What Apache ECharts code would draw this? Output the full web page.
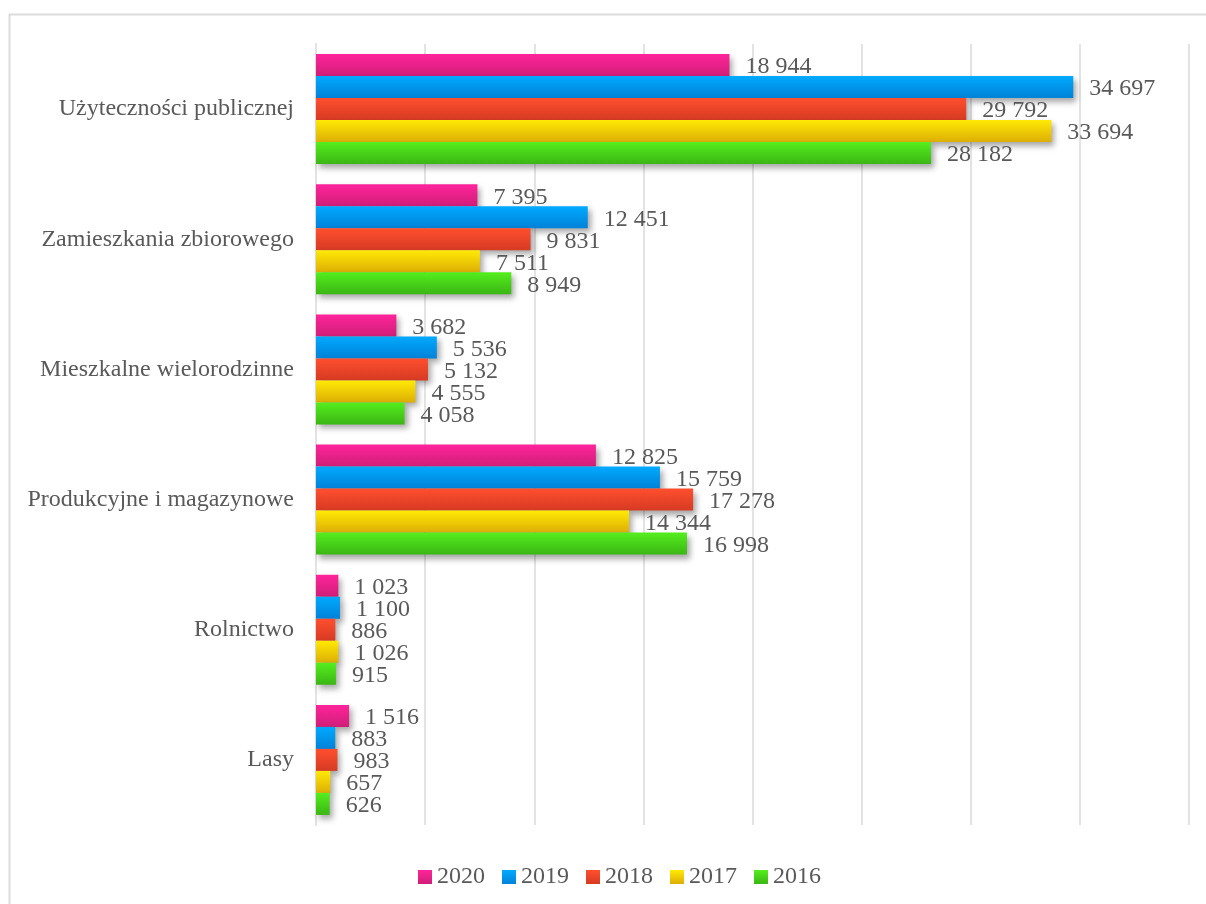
<!DOCTYPE html>
<html>
<head>
<meta charset="utf-8">
<script src="https://cdn.jsdelivr.net/npm/echarts@6/dist/echarts.min.js"></script>
<style>html,body{margin:0;padding:0;background:#fff;}#c{width:1206px;height:904px;}</style>
</head>
<body>
<div id="c"></div>
<script>
const categories = ['Użyteczności publicznej','Zamieszkania zbiorowego','Mieszkalne wielorodzinne','Produkcyjne i magazynowe','Rolnictwo','Lasy'];
const years = ['2020','2019','2018','2017','2016'];
const v2020 = [18944, 7395, 3682, 12825, 1023, 1516];
const v2019 = [34697, 12451, 5536, 15759, 1100, 883];
const v2018 = [29792, 9831, 5132, 17278, 886, 983];
const v2017 = [33694, 7511, 4555, 14344, 1026, 657];
const v2016 = [28182, 8949, 4058, 16998, 915, 626];
const values = [v2020, v2019, v2018, v2017, v2016];
const gradients = [
  ['#FF249B', '#D01E78'],
  ['#00AAFF', '#0082D8'],
  ['#FF4F2F', '#D63A22'],
  ['#FFEA05', '#DDAE05'],
  ['#55EE1E', '#3BB614']
];
function fmt(n){ return String(n).replace(/\B(?=(\d{3})+(?!\d))/g, ' '); }
const FONT = '"Liberation Serif", "Times New Roman", serif';
const chart = echarts.init(document.getElementById('c'));
chart.setOption({
  animation: false,
  backgroundColor: '#fff',
  graphic: [{
    type: 'rect', shape: {x: 9.5, y: 14.5, width: 1220, height: 920},
    style: {fill: 'none', stroke: '#dcdcdc', lineWidth: 2}, silent: true, z: -1
  }],
  legend: {
    bottom: 10, left: 413,
    itemWidth: 14, itemHeight: 14, itemGap: 17,
    icon: 'rect',
    textStyle: {fontFamily: FONT, fontSize: 24, color: '#595959', padding: [0,0,0,0]},
    data: years
  },
  grid: {left: 316, right: 17, top: 44, bottom: 79, containLabel: false},
  xAxis: {
    type: 'value', min: 0, max: 40000, interval: 5000,
    axisLabel: {show: false}, axisTick: {show: false},
    axisLine: {show: false},
    splitLine: {show: true, lineStyle: {color: '#e3e3e3', width: 2}}
  },
  yAxis: {
    type: 'category', inverse: true, data: categories,
    axisTick: {show: false},
    axisLine: {show: true, lineStyle: {color: '#e3e3e3', width: 2}},
    axisLabel: {fontFamily: FONT, fontSize: 24, color: '#595959', margin: 22}
  },
  series: years.map((y, i) => ({
    name: y, type: 'bar',
    data: values[i],
    barWidth: 22, barGap: '0%',
    itemStyle: {
      color: new echarts.graphic.LinearGradient(0, 0, 0, 1, [
        {offset: 0, color: gradients[i][0]}, {offset: 1, color: gradients[i][1]}
      ]),
      shadowColor: 'rgba(0,0,0,0.35)', shadowBlur: 6, shadowOffsetX: 3, shadowOffsetY: 4
    },
    label: {
      show: true, position: 'right', distance: 16, offset: [0, 2],
      fontFamily: FONT, fontSize: 24, color: '#595959',
      formatter: p => fmt(p.value)
    }
  }))
});
</script>
</body>
</html>
